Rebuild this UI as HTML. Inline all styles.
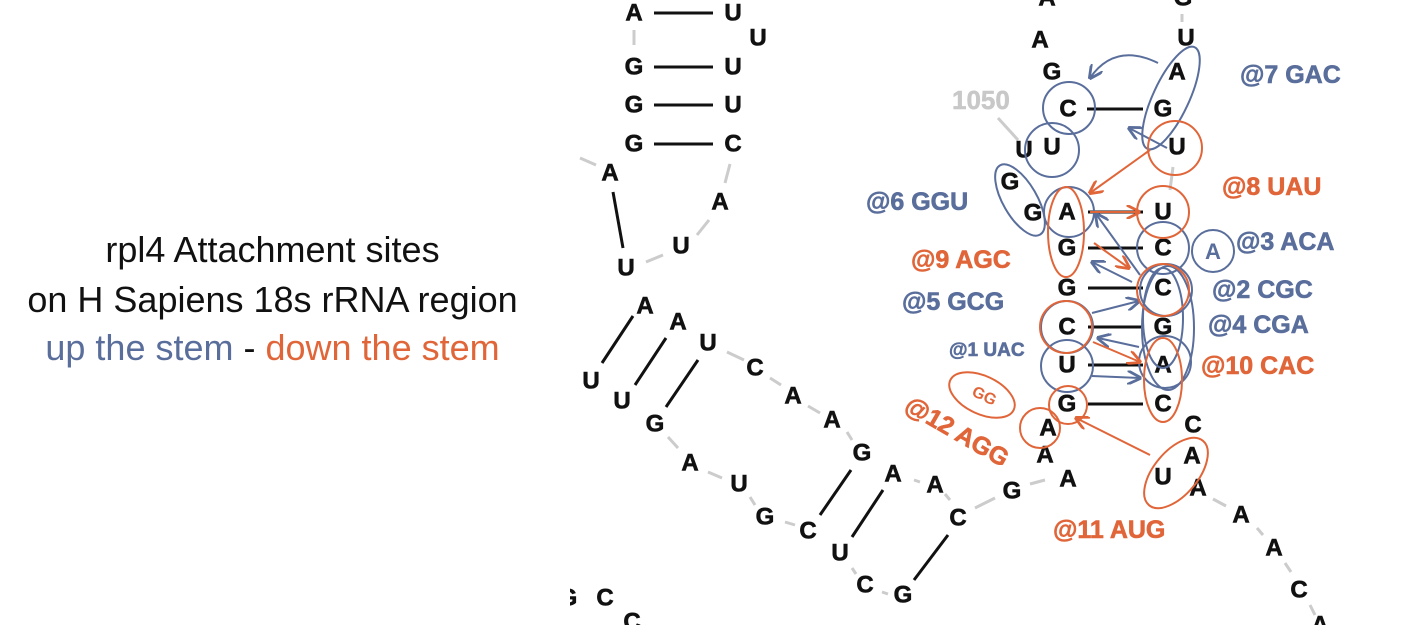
<!DOCTYPE html>
<html><head><meta charset="utf-8"><style>
html,body{margin:0;padding:0;background:#fff;}
body{width:1418px;height:625px;overflow:hidden;position:relative;}
.t{position:absolute;left:0;width:545px;text-align:center;font-family:"Liberation Sans",sans-serif;font-size:36px;line-height:40px;color:#111;}
</style></head><body>
<svg width="1418" height="625" style="position:absolute;left:0;top:0" xmlns="http://www.w3.org/2000/svg">
<defs>
<marker id="ab" viewBox="0 0 10 10" refX="9" refY="5" markerWidth="7" markerHeight="7" orient="auto"><path d="M0,0 L10,5 L0,10" fill="none" stroke="#5a6e9c" stroke-width="2"/></marker>
<marker id="ao" viewBox="0 0 10 10" refX="9" refY="5" markerWidth="7" markerHeight="7" orient="auto"><path d="M0,0 L10,5 L0,10" fill="none" stroke="#e0663a" stroke-width="2"/></marker>
</defs>
<g stroke="#ccc" stroke-width="3">
<line x1="634" y1="30" x2="634" y2="45"/><line x1="580" y1="158" x2="596" y2="165"/><line x1="730" y1="164" x2="725" y2="183"/>
<line x1="697" y1="235" x2="709" y2="220"/><line x1="646" y1="262" x2="663" y2="255"/>
<line x1="727" y1="352" x2="744" y2="360"/><line x1="770" y1="378" x2="781" y2="385"/><line x1="808" y1="406" x2="820" y2="413"/><line x1="847" y1="432" x2="852" y2="440"/>
<line x1="668" y1="437" x2="678" y2="448"/><line x1="708" y1="472" x2="722" y2="478"/><line x1="750" y1="497" x2="755" y2="505"/><line x1="785" y1="522" x2="795" y2="525"/>
<line x1="852" y1="568" x2="856" y2="574"/><line x1="882" y1="592" x2="888" y2="594"/><line x1="914" y1="480" x2="920" y2="482"/><line x1="945" y1="494" x2="950" y2="500"/>
<line x1="975" y1="508" x2="995" y2="498"/><line x1="1030" y1="484" x2="1045" y2="480"/><line x1="1018" y1="140" x2="998" y2="118"/>
<line x1="1213" y1="499" x2="1226" y2="506"/><line x1="1257" y1="528" x2="1263" y2="535"/><line x1="1285" y1="563" x2="1291" y2="572"/><line x1="1310" y1="605" x2="1315" y2="615"/>
<line x1="1173" y1="167" x2="1170" y2="190"/><line x1="1182" y1="14" x2="1182" y2="22"/>
</g>
<g stroke="#111" stroke-width="3">
<line x1="654" y1="13" x2="713" y2="13"/><line x1="654" y1="67" x2="713" y2="67"/><line x1="654" y1="105" x2="713" y2="105"/><line x1="654" y1="144" x2="713" y2="144"/>
<line x1="613" y1="192" x2="623" y2="248"/>
<line x1="602" y1="363" x2="633" y2="316"/><line x1="635" y1="385" x2="666" y2="338"/><line x1="666" y1="407" x2="698" y2="360"/>
<line x1="820" y1="515" x2="851" y2="470"/><line x1="852" y1="537" x2="883" y2="490"/><line x1="914" y1="580" x2="948" y2="535"/>
<line x1="1087" y1="109" x2="1143" y2="109"/><line x1="1088" y1="212" x2="1143" y2="212"/><line x1="1088" y1="248" x2="1143" y2="248"/><line x1="1088" y1="288" x2="1143" y2="288"/><line x1="1088" y1="327" x2="1143" y2="327"/><line x1="1088" y1="365" x2="1143" y2="365"/><line x1="1088" y1="404" x2="1143" y2="404"/>
</g>
<g font-family="Liberation Sans,sans-serif" font-weight="bold" font-size="24" fill="#111" stroke="#111" stroke-width="0.6" text-anchor="middle" dominant-baseline="central">
<text x="634" y="13">A</text><text x="733" y="13">U</text><text x="758" y="38">U</text><text x="634" y="67">G</text><text x="733" y="67">U</text><text x="634" y="105">G</text><text x="733" y="105">U</text><text x="634" y="144">G</text><text x="733" y="144">C</text>
<text x="610" y="173">A</text><text x="720" y="202">A</text><text x="681" y="246">U</text><text x="626" y="268">U</text>
<text x="645" y="306">A</text><text x="678" y="322">A</text><text x="708" y="343">U</text><text x="755" y="368">C</text><text x="793" y="396">A</text><text x="832" y="420">A</text><text x="862" y="453">G</text><text x="893" y="474">A</text><text x="935" y="485">A</text><text x="958" y="518">C</text>
<text x="591" y="381">U</text><text x="622" y="401">U</text><text x="655" y="424">G</text><text x="690" y="463">A</text><text x="739" y="484">U</text><text x="765" y="517">G</text><text x="808" y="531">C</text><text x="840" y="553">U</text><text x="865" y="585">C</text><text x="903" y="595">G</text>
<text x="568" y="598">G</text><text x="605" y="598">C</text><text x="632" y="622">C</text>
<text x="1047" y="-2">A</text><text x="1040" y="40">A</text><text x="1052" y="72">G</text><text x="1068" y="109">C</text><text x="1052" y="147">U</text><text x="1024" y="150">U</text><text x="1010" y="182">G</text><text x="1033" y="213">G</text>
<text x="1067" y="212">A</text><text x="1067" y="248">G</text><text x="1067" y="288">G</text><text x="1067" y="327">C</text><text x="1067" y="365">U</text><text x="1067" y="404">G</text><text x="1048" y="428">A</text><text x="1045" y="455">A</text><text x="1068" y="479">A</text><text x="1012" y="491">G</text>
<text x="1183" y="-2">G</text><text x="1186" y="38">U</text><text x="1177" y="72">A</text><text x="1163" y="109">G</text><text x="1177" y="147">U</text><text x="1163" y="212">U</text><text x="1163" y="248">C</text><text x="1163" y="288">C</text><text x="1163" y="327">G</text><text x="1163" y="365">A</text><text x="1163" y="404">C</text>
<text x="1193" y="425">C</text><text x="1192" y="456">A</text><text x="1163" y="477">U</text><text x="1198" y="488">A</text><text x="1241" y="515">A</text><text x="1274" y="548">A</text><text x="1299" y="590">C</text><text x="1320" y="625">A</text>
</g>
<rect x="0" y="560" width="570" height="65" fill="#fff"/>
<text x="952" y="109" font-family="Liberation Sans,sans-serif" font-weight="bold" font-size="26" fill="#c8c8c8" stroke="#c8c8c8" stroke-width="0.5">1050</text>
<g fill="none" stroke="#5a6e9c" stroke-width="2">
<circle cx="1069" cy="108" r="26"/><circle cx="1052" cy="150" r="27"/>
<ellipse cx="1020" cy="200" rx="17" ry="40" transform="rotate(-30 1020 200)"/>
<ellipse cx="1171" cy="98" rx="18" ry="56" transform="rotate(25 1171 98)"/>
<circle cx="1069" cy="212" r="25"/><circle cx="1163" cy="248" r="26"/><circle cx="1213" cy="251" r="21"/>
<circle cx="1166" cy="290" r="26"/><ellipse cx="1163" cy="318" rx="20" ry="50"/><ellipse cx="1168" cy="328" rx="26" ry="62"/>
<circle cx="1067" cy="327" r="26"/><circle cx="1067" cy="366" r="26"/><circle cx="1165" cy="362" r="26"/>
<path d="M1158,63 Q1115,42 1090,78" marker-end="url(#ab)"/>
<line x1="1167" y1="148" x2="1129" y2="128" marker-end="url(#ab)"/>
<line x1="1132" y1="282" x2="1092" y2="262" marker-end="url(#ab)"/>
<line x1="1140" y1="275" x2="1096" y2="214" marker-end="url(#ab)"/>
<line x1="1092" y1="313" x2="1139" y2="301" marker-end="url(#ab)"/>
<line x1="1139" y1="347" x2="1098" y2="338" marker-end="url(#ab)"/>
<line x1="1092" y1="376" x2="1140" y2="378" marker-end="url(#ab)"/>
</g>
<g fill="none" stroke="#e0663a" stroke-width="2">
<circle cx="1175" cy="148" r="27"/><circle cx="1163" cy="212" r="26"/>
<ellipse cx="1066" cy="232" rx="18" ry="45"/>
<circle cx="1163" cy="290" r="26"/><circle cx="1066" cy="327" r="26"/>
<ellipse cx="1163" cy="380" rx="19" ry="42"/>
<circle cx="1068" cy="405" r="19"/><circle cx="1040" cy="428" r="20"/>
<ellipse cx="982" cy="395" rx="35" ry="19" transform="rotate(25 982 395)"/>
<ellipse cx="1176" cy="473" rx="22" ry="42" transform="rotate(40 1176 473)"/>
<line x1="1150" y1="150" x2="1090" y2="193" marker-end="url(#ao)"/>
<line x1="1090" y1="212" x2="1139" y2="212" marker-end="url(#ao)"/>
<line x1="1094" y1="243" x2="1129" y2="268" marker-end="url(#ao)"/>
<line x1="1093" y1="342" x2="1140" y2="362" marker-end="url(#ao)"/>
<line x1="1150" y1="455" x2="1076" y2="418" marker-end="url(#ao)"/>
</g>
<g font-family="Liberation Sans,sans-serif" font-weight="bold" font-size="25" stroke-width="0.6">
<text x="1240" y="83" fill="#5a6e9c" stroke="#5a6e9c">@7 GAC</text>
<text x="1222" y="195" fill="#e0663a" stroke="#e0663a">@8 UAU</text>
<text x="866" y="210" fill="#5a6e9c" stroke="#5a6e9c">@6 GGU</text>
<text x="1236" y="250" fill="#5a6e9c" stroke="#5a6e9c">@3 ACA</text>
<text x="1213" y="259" fill="#5a6e9c" font-size="22" text-anchor="middle" stroke="none">A</text>
<text x="911" y="268" fill="#e0663a" stroke="#e0663a">@9 AGC</text>
<text x="1212" y="298" fill="#5a6e9c" stroke="#5a6e9c">@2 CGC</text>
<text x="902" y="310" fill="#5a6e9c" stroke="#5a6e9c">@5 GCG</text>
<text x="1208" y="333" fill="#5a6e9c" stroke="#5a6e9c">@4 CGA</text>
<text x="949" y="356" fill="#5a6e9c" font-size="19" stroke="#5a6e9c">@1 UAC</text>
<text x="1201" y="374" fill="#e0663a" stroke="#e0663a">@10 CAC</text>
<text x="972" y="400" fill="#e0663a" font-size="16" stroke="none" transform="rotate(25 982 395)">GG</text>
<text x="903" y="410" fill="#e0663a" stroke="#e0663a" transform="rotate(30 903 410)">@12 AGG</text>
<text x="1053" y="538" fill="#e0663a" stroke="#e0663a">@11 AUG</text>
</g>
</svg>
<div class="t" style="top:230px">rpl4 Attachment sites</div>
<div class="t" style="top:280px">on H Sapiens 18s rRNA region</div>
<div class="t" style="top:328px"><span style="color:#5a6e9c">up the stem</span> - <span style="color:#e0663a">down the stem</span></div>
</body></html>
